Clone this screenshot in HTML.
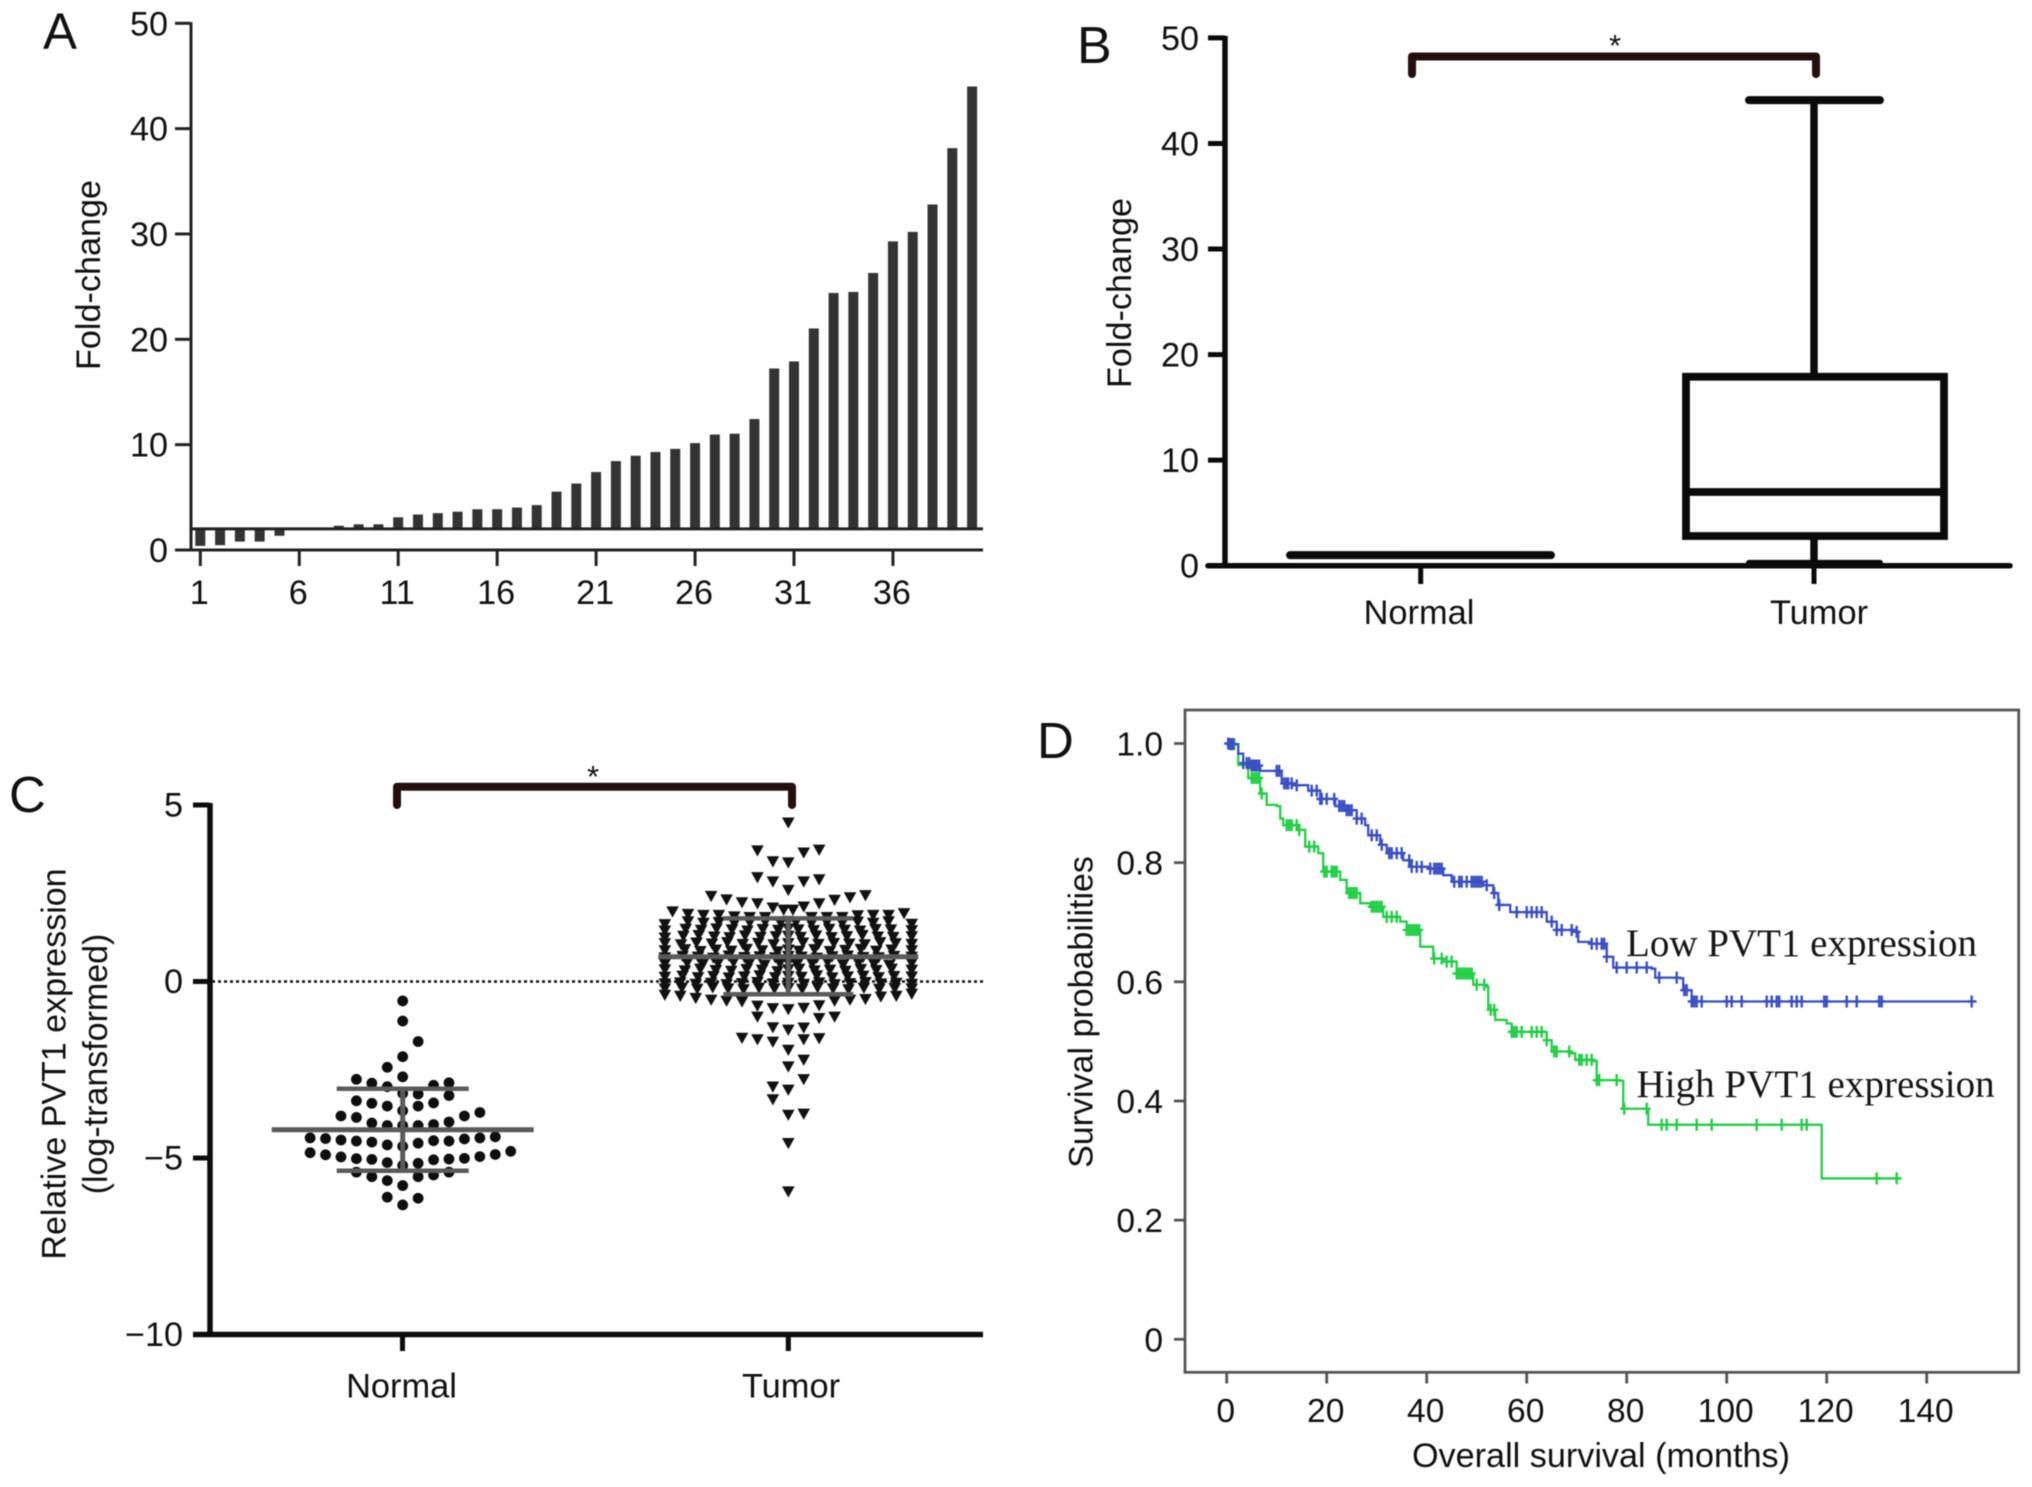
<!DOCTYPE html>
<html lang="en">
<head>
<meta charset="utf-8">
<title>PVT1 expression figure</title>
<style>
html,body{margin:0;padding:0;background:#fff;width:2032px;height:1487px;overflow:hidden}
svg{display:block;position:absolute;left:0;top:0;filter:blur(0.6px)}
text{font-family:"Liberation Sans",sans-serif;fill:#111}
.serif{font-family:"Liberation Serif",serif;fill:#161616}
</style>
</head>
<body>
<svg id="fig" xmlns="http://www.w3.org/2000/svg" width="2032" height="1487" viewBox="0 0 2032 1487">
  <rect x="0" y="0" width="2032" height="1487" fill="#fff"/>
  <g id="panelA">
    <text x="43" y="49" font-size="51">A</text>
    <text transform="translate(100 275) rotate(-90)" text-anchor="middle" font-size="34.2">Fold-change</text>
  </g>
  <g id="panelB">
    <text x="1077" y="63" font-size="52">B</text>
    <text transform="translate(1131 293) rotate(-90)" text-anchor="middle" font-size="34.2">Fold-change</text>
    <text x="1615" y="56" text-anchor="middle" font-size="31">*</text>
  </g>
  <g id="panelC">
    <text x="9" y="812" font-size="51">C</text>
    <text transform="translate(65.5 1064) rotate(-90)" text-anchor="middle" font-size="34">Relative PVT1 expression</text>
    <text transform="translate(107 1064) rotate(-90)" text-anchor="middle" font-size="34">(log-transformed)</text>
    <text x="593" y="787" text-anchor="middle" font-size="31">*</text>
  </g>
  <g id="panelD">
    <text x="1037" y="758" font-size="51">D</text>
    <text transform="translate(1092.5 1012) rotate(-90)" text-anchor="middle" font-size="34">Survival probabilities</text>
    <text x="1601" y="1467" text-anchor="middle" font-size="34.2">Overall survival (months)</text>
    <rect x="1185" y="710" width="833.7" height="662.3" fill="none" stroke="#555" stroke-width="2.8"/>
  </g>
</svg>
<script>
/* ---------- Panel A data ---------- */
const barCategoriesA = [1,2,3,4,5,6,7,8,9,10,11,12,13,14,15,16,17,18,19,20,21,22,23,24,25,26,27,28,29,30,31,32,33,34,35,36,37,38,39,40];
const foldChangeA = [0.39,0.46,0.8,0.8,1.35,2,2,2.3,2.44,2.44,3.1,3.37,3.5,3.64,3.87,3.87,4.03,4.26,5.54,6.31,7.4,8.44,8.95,9.3,9.6,10.15,10.96,11.04,12.43,17.23,17.9,21.03,24.4,24.5,26.3,29.3,30.2,32.8,38.15,44];
const baselineValueA = 2;
const yTicksA = [0,10,20,30,40,50];
const xTicksA = [1,6,11,16,21,26,31,36];

/* ---------- Panel B data ---------- */
const boxCategoriesB = ["Normal","Tumor"];
const yTicksB = [0,10,20,30,40,50];
const normalSummaryB = [1.0];
const tumorWhiskersB = [0.27,44.1];
const tumorBoxB = [2.81,6.98,17.9];

/* ---------- Panel C data ---------- */
const groupCategoriesC = ["Normal","Tumor"];
const yTicksC = [5,0,-5,-10];
const normalValuesC = [-0.55,-1.12,-1.70,-2.13,-2.43,-2.70,-2.77,-2.88,-2.98,-2.94,-2.87,-3.17,-3.19,-3.23,-3.38,-3.45,-3.53,-3.66,-3.53,-3.44,-3.81,-3.85,-4.01,-4.08,-4.08,-4.08,-4.05,-3.98,-3.81,-3.71,-4.43,-4.45,-4.49,-4.52,-4.55,-4.63,-4.67,-4.58,-4.51,-4.52,-4.46,-4.43,-4.40,-4.85,-4.91,-4.97,-5.02,-5.04,-5.13,-5.21,-5.15,-5.05,-5.03,-5.01,-4.96,-4.90,-4.81,-5.40,-5.53,-5.64,-5.78,-5.53,-5.48,-5.40,-6.11,-6.33,-6.14];
const normalSwarmSlotC = [0,0,1,0,-1,0,-3,-2,-1,2,3,0,1,3,-3,-2,-1,0,1,2,-4,-3,-2,-1,0,1,2,3,4,5,-6,-5,-4,-3,-2,-1,0,1,2,3,4,5,6,-6,-5,-4,-3,-2,-1,0,1,2,3,4,5,6,7,-3,-2,-1,0,1,2,3,-1,0,1];
const normalStatsC = [-5.36,-4.20,-3.04];
const tumorStatsC = [-0.36,0.70,1.79];
const tumorOuterValuesC = [4.50,3.71,3.40,3.37,3.65,3.73,2.95,2.83,2.59,2.83,2.89,2.42,2.32,2.24,2.21,2.09,2.03,2.03,2.12,2.21,2.31,2.38,2.44,1.98,1.91,1.88,1.88,1.84,1.82,1.82,1.82,1.82,1.82,1.87,1.88,1.88,1.93,-0.38,-0.41,-0.47,-0.52,-0.55,-0.57,-0.69,-0.76,-0.79,-0.75,-0.68,-0.55,-0.52,-0.50,-0.43,-0.41,-0.35,-1.0,-1.04,-1.0,-1.30,-1.37,-1.31,-1.60,-1.64,-1.71,-1.64,-1.61,-1.94,-2.22,-2.41,-2.77,-2.98,-3.07,-3.34,-3.78,-3.75,-4.58,-5.95];
const tumorOuterSlotC = [0,-2,-1,0,1,2,-2,-1,0,1,2,-5,-4,-3,-2,-1,-0.3,0.3,1,2,3,4,5,-7.5,-6.5,-5.5,-4.5,-3.5,-2.5,-1.5,1.5,2.5,3.5,4.5,5.5,6.5,7.5,-8,-7,-6,-5,-4,-3,-2,-1,0,1,2,3,4,5,6,7,8,-2,2,3,-1,0,1,-3,-2,-1,1,2,0,1,0,1,-1,0,-1,0,1,0,0];
const tumorBand1C = [1.62,1.70,1.66,1.68,1.64,1.67,1.69,1.66,1.71,1.68,1.64,1.67,1.65,1.69,1.66,1.70,1.63];
const tumorBand2C = [1.44,1.49,1.46,1.50,1.47,1.44,1.48,1.46,1.50,1.47,1.45,1.49,1.46,1.44,1.48,1.47,1.45];
const tumorBand3C = [1.24,1.29,1.31,1.27,1.25,1.30,1.26,1.28,1.29,1.26,1.30,1.25,1.28,1.31,1.27,1.26,1.28];
const tumorBand4C = [1.08,1.05,1.10,1.07,1.11,1.06,1.09,1.05,1.08,1.10,1.06,1.09,1.07,1.05,1.11,1.08,1.06];
const tumorBand5C = [0.88,0.91,0.86,0.90,0.87,0.92,0.88,0.85,0.90,0.87,0.91,0.86,0.89,0.92,0.87,0.90,0.88];
const tumorBand6C = [0.68,0.72,0.70,0.67,0.73,0.69,0.71,0.68,0.72,0.70,0.67,0.71,0.73,0.69,0.68,0.72,0.70];
const tumorBand7C = [0.50,0.53,0.49,0.52,0.55,0.50,0.47,0.52,0.54,0.49,0.51,0.55,0.48,0.53,0.50,0.47,0.52];
const tumorBand8C = [0.34,0.31,0.36,0.32,0.30,0.35,0.33,0.29,0.34,0.36,0.31,0.33,0.30,0.35,0.32,0.36,0.33];
const tumorBand9C = [0.13,0.16,0.12,0.15,0.11,0.14,0.17,0.12,0.15,0.13,0.17,0.11,0.14,0.16,0.12,0.15,0.14];
const tumorBand10C = [-0.06,-0.03,-0.07,-0.04,-0.08,-0.05,-0.02,-0.06,-0.04,-0.07,-0.03,-0.08,-0.05,-0.02,-0.06,-0.04,-0.07];
const tumorBand11C = [-0.20,-0.18,-0.21,-0.17,-0.20,-0.22,-0.18,-0.20,-0.19,-0.21,-0.17,-0.20,-0.22,-0.18,-0.21,-0.19,-0.20];
const tumorBandLeanC = [0.5,0.35,0.2,0.05,0.3,0.15,0.45,0.3,0.15,0,0.1];

/* ---------- Panel D data ---------- */
const yTicksD = [0,0.2,0.4,0.6,0.8,1.0];
const yTickLabelsD = ["0","0.2","0.4","0.6","0.8","1.0"];
const xTicksD = [0,20,40,60,80,100,120,140];
const lowTimes = [0,0.67,2.3,3.3,5,6.7,10.3,11,13.3,16.3,18.7,21.7,24,26,27.7,28.3,30.7,32,35.3,36.7,40.7,43.3,45,51.3,53.3,54.3,56.7,63.3,64,66,69.7,70.3,72.7,76,77.3,85,85.7,90.7,91.3,93,150];
const lowSurvival = [1,0.999,0.983,0.967,0.963,0.954,0.954,0.933,0.930,0.921,0.907,0.895,0.888,0.874,0.863,0.846,0.830,0.816,0.804,0.793,0.790,0.779,0.768,0.762,0.749,0.729,0.717,0.717,0.701,0.687,0.684,0.667,0.664,0.642,0.624,0.622,0.607,0.606,0.586,0.567,0.567];
const highTimes = [0,0.67,2.3,4.3,6.7,8,10,10.7,11.3,14.3,15.7,18.3,19.3,22.7,24,26.7,28.7,31.3,34.7,36,38.7,41.3,43.3,46,49.3,51.7,52.3,53.7,56,57,62.3,64,65,68.7,69.7,73.3,74,78.3,79.3,84,84.3,119,135];
const highSurvival = [1,0.999,0.964,0.942,0.916,0.897,0.895,0.874,0.863,0.855,0.827,0.816,0.785,0.771,0.749,0.732,0.726,0.709,0.701,0.687,0.659,0.639,0.634,0.614,0.595,0.592,0.553,0.536,0.530,0.516,0.516,0.502,0.483,0.480,0.469,0.467,0.435,0.434,0.387,0.387,0.360,0.270,0.270];
const lowCensored = [0.3,0.7,1,1.3,3.3,4,4.5,5,5.3,5.7,6,6.5,10,10.5,11.5,12,12.3,13,14,17,18,18.7,19,20,21.5,22.5,23,23.5,24,24.5,25,26,27,29,30,31,32.5,33,34,35,36.5,37,38,39,40.7,41.5,42,42.5,43,45.5,46.5,47,48,49,49.5,50,50.5,51,52,53.5,54.5,58,60,61,62,63,65,66,67,69,70,73,74,75,75.5,76,78,80,82,84,86.5,90,91.5,92,93,93.5,94,95,100,101,103,108,109,110,110.5,113,114,115,119.5,120,124,126,130.5,131,149];
const highCensored = [0.7,1,1.5,5,5.5,6,6.5,7,12,12.5,13,14,14.5,16.5,17.5,19.5,20,21,21.5,22,24.5,25,25.5,26,29,29.5,30,30.5,31,32,33,34,36,36.5,37,37.5,38,38.5,41.5,43,44,45,46,46.5,47,47.5,48,48.5,49,50,51.5,52.8,53.5,57,57.5,58,59,61,62,63,64,65.5,66,68.5,70.5,71,72,73,74,74.5,78,79.5,84,87,88,90,94,97,106,111,115,116,130,134];

/* ---------- helpers ---------- */
const NS = "http://www.w3.org/2000/svg";
function mk(tag, attrs, parent){
  const e = document.createElementNS(NS, tag);
  for (const k in attrs) e.setAttribute(k, attrs[k]);
  parent.appendChild(e);
  return e;
}
function fmtNum(v){ return v < 0 ? "\u2212" + Math.abs(v) : String(v); }

/* ---------- Panel A ---------- */
(function(){
  const g = document.getElementById("panelA");
  const x = i => 200.3 + 19.79 * (i - 1);
  const y = v => 550 - 10.534 * v;
  const barW = 10;
  barCategoriesA.forEach((c, i) => {
    const v = foldChangeA[i];
    const top = Math.min(y(v), y(baselineValueA));
    const h = Math.abs(y(v) - y(baselineValueA));
    const r = mk("rect", {x: x(c) - barW / 2, y: top, width: barW, height: h, fill: "#333"}, g);
    
    
  });
  const yAxis = mk("line", {x1: 191, x2: 191, y1: y(50) - 1, y2: y(0) + 1, stroke: "#222", "stroke-width": 3}, g);
  
  
  const xAxis = mk("line", {x1: 175, x2: 983, y1: y(0), y2: y(0), stroke: "#222", "stroke-width": 3}, g);
  
  
  const base = mk("line", {x1: 191, x2: 983, y1: y(baselineValueA), y2: y(baselineValueA), stroke: "#222", "stroke-width": 3}, g);
  
  
  yTicksA.forEach(v => {
    const t = mk("line", {x1: 175, x2: 191, y1: y(v), y2: y(v), stroke: "#222", "stroke-width": 3}, g);
    
    
    const l = mk("text", {x: 168, y: y(v) + 12, "text-anchor": "end", "font-size": 34.2}, g);
    l.textContent = fmtNum(v);
    
    
  });
  xTicksA.forEach(c => {
    const t = mk("line", {x1: x(c), x2: x(c), y1: y(0), y2: y(0) + 16, stroke: "#222", "stroke-width": 3}, g);
    
    
    const l = mk("text", {x: x(c) - 1, y: 604, "text-anchor": "middle", "font-size": 34.2}, g);
    l.textContent = c;
    
    
  });
})();

/* ---------- Panel B ---------- */
(function(){
  const g = document.getElementById("panelB");
  const x = [1420.7, 1814];
  const y = v => 565.7 - 10.556 * v;
  const ink = "#0a0a0a";
  const yAxis = mk("line", {x1: 1225, x2: 1225, y1: y(50) - 2, y2: y(0), stroke: ink, "stroke-width": 5.5}, g);
  
  
  const xAxis = mk("line", {x1: 1208, x2: 2010, y1: y(0), y2: y(0), stroke: ink, "stroke-width": 5.5, "stroke-linecap": "round"}, g);
  
  
  yTicksB.forEach(v => {
    const t = mk("line", {x1: 1208, x2: 1225, y1: y(v), y2: y(v), stroke: ink, "stroke-width": 5}, g);
    
    
    const l = mk("text", {x: 1199, y: y(v) + 12, "text-anchor": "end", "font-size": 34.2}, g);
    l.textContent = fmtNum(v);
    
    
  });
  boxCategoriesB.forEach((c, i) => {
    const t = mk("line", {x1: x[i], x2: x[i], y1: y(0), y2: 584, stroke: ink, "stroke-width": 5}, g);
    
    
    const l = mk("text", {x: i === 0 ? 1419 : 1819, y: 624, "text-anchor": "middle", "font-size": 34.4}, g);
    l.textContent = c;
    
    
  });
  const normalLine = mk("line", {x1: 1290, x2: 1551, y1: y(normalSummaryB[0]), y2: y(normalSummaryB[0]), stroke: ink, "stroke-width": 8, "stroke-linecap": "round"}, g);
  
  
  const stem = mk("line", {x1: x[1], x2: x[1], y1: y(tumorWhiskersB[1]), y2: y(tumorWhiskersB[0]), stroke: ink, "stroke-width": 7.5}, g);
  
  
  const capTop = mk("line", {x1: 1749, x2: 1880, y1: y(tumorWhiskersB[1]), y2: y(tumorWhiskersB[1]), stroke: ink, "stroke-width": 8, "stroke-linecap": "round"}, g);
  
  
  const capBot = mk("line", {x1: 1749, x2: 1880, y1: y(tumorWhiskersB[0]), y2: y(tumorWhiskersB[0]), stroke: ink, "stroke-width": 6, "stroke-linecap": "round"}, g);
  
  
  const box = mk("rect", {x: 1686, y: y(tumorBoxB[2]), width: 258, height: y(tumorBoxB[0]) - y(tumorBoxB[2]), fill: "#fff", stroke: ink, "stroke-width": 7.8}, g);
  
  
  const med = mk("line", {x1: 1686, x2: 1944, y1: y(tumorBoxB[1]), y2: y(tumorBoxB[1]), stroke: ink, "stroke-width": 7.8}, g);
  
  
  const br = mk("path", {d: "M1412 74 V56.5 H1816 V74", fill: "none", stroke: "#23100e", "stroke-width": 8, "stroke-linecap": "round", "stroke-linejoin": "round"}, g);
  
  
})();

/* ---------- Panel C ---------- */
(function(){
  const g = document.getElementById("panelC");
  const xNormal = 402.7, xTumor = 788.3, step = 15.43;
  const y = v => 981.5 - 35.3 * v;
  const ink = "#0c0c0c";
  const zero = mk("line", {x1: 212, x2: 983, y1: y(0), y2: y(0), stroke: "#111", "stroke-width": 2.4, "stroke-dasharray": "3 3"}, g);
  
  
  const yAxis = mk("line", {x1: 210, x2: 210, y1: y(5) - 2, y2: y(-10), stroke: ink, "stroke-width": 5.5}, g);
  
  
  const xAxis = mk("line", {x1: 193, x2: 983, y1: y(-10), y2: y(-10), stroke: ink, "stroke-width": 5.5}, g);
  
  
  yTicksC.forEach(v => {
    const t = mk("line", {x1: 193, x2: 210, y1: y(v), y2: y(v), stroke: ink, "stroke-width": 5}, g);
    
    
    const l = mk("text", {x: 183, y: y(v) + 11.5, "text-anchor": "end", "font-size": 34.2}, g);
    l.textContent = fmtNum(v);
    
    
  });
  groupCategoriesC.forEach((c, i) => {
    const tx = i === 0 ? 402.5 : 788.3;
    const t = mk("line", {x1: tx, x2: tx, y1: y(-10), y2: 1351, stroke: ink, "stroke-width": 5}, g);
    
    
    const l = mk("text", {x: i === 0 ? 401.5 : 791, y: 1397.5, "text-anchor": "middle", "font-size": 34.4}, g);
    l.textContent = c;
    
    
  });
  const br = mk("path", {d: "M397 805 V786.8 H792 V805", fill: "none", stroke: "#23100e", "stroke-width": 8, "stroke-linecap": "round", "stroke-linejoin": "round"}, g);
  
  

  normalValuesC.forEach((v, i) => {
    const d = mk("circle", {cx: xNormal + normalSwarmSlotC[i] * step, cy: y(v), r: 5.4, fill: "#0e0e0e"}, g);
    
    
  });

  function tri(cx, v){
    const cy = y(v);
    const p = mk("path", {d: "M" + (cx - 6.3) + " " + (cy - 5.2) + " H" + (cx + 6.3) + " L" + cx + " " + (cy + 6) + " Z", fill: "#111"}, g);
    
    
  }
  const bands = [tumorBand1C,tumorBand2C,tumorBand3C,tumorBand4C,tumorBand5C,tumorBand6C,tumorBand7C,tumorBand8C,tumorBand9C,tumorBand10C,tumorBand11C];
  bands.forEach((band, b) => {
    band.forEach((v, k) => {
      const col = k - 8;
      const lean = Math.abs(col) === 8 ? 0 : tumorBandLeanC[b];
      tri(xTumor + (col - Math.sign(col) * lean) * step, v);
    });
  });
  tumorOuterValuesC.forEach((v, i) => tri(xTumor + tumorOuterSlotC[i] * step, v));

  function errorBars(cx, stats, meanHalf, sdHalf, prefix){
    const grey = "#5a5a5a";
    const stem = mk("line", {x1: cx, x2: cx, y1: y(stats[2]), y2: y(stats[0]), stroke: grey, "stroke-width": 5}, g);
    
    
    const mean = mk("line", {x1: cx - meanHalf, x2: cx + meanHalf, y1: y(stats[1]), y2: y(stats[1]), stroke: grey, "stroke-width": 5}, g);
    
    
    const up = mk("line", {x1: cx - sdHalf, x2: cx + sdHalf, y1: y(stats[2]), y2: y(stats[2]), stroke: grey, "stroke-width": 4.5}, g);
    
    
    const lo = mk("line", {x1: cx - sdHalf, x2: cx + sdHalf, y1: y(stats[0]), y2: y(stats[0]), stroke: grey, "stroke-width": 4.5}, g);
    
    
  }
  errorBars(xNormal, normalStatsC, 131, 66, 'normal');
  errorBars(xTumor, tumorStatsC, 130, 65, 'tumor');
})();

/* ---------- Panel D ---------- */
(function(){
  const g = document.getElementById("panelD");
  const x = t => 1226.7 + 5 * t;
  const y = s => 1339.3 - 595.8 * s;
  const tickInk = "#555";
  yTicksD.forEach((v, i) => {
    const t = mk("line", {x1: 1174, x2: 1185, y1: y(v), y2: y(v), stroke: tickInk, "stroke-width": 2.8}, g);
    
    
    const l = mk("text", {x: 1163, y: y(v) + 12, "text-anchor": "end", "font-size": 33.6}, g);
    l.textContent = yTickLabelsD[i];
    
    
  });
  xTicksD.forEach(v => {
    const t = mk("line", {x1: x(v), x2: x(v), y1: 1372, y2: 1383.5, stroke: tickInk, "stroke-width": 2.8}, g);
    
    
    const l = mk("text", {x: x(v) - 1, y: 1422, "text-anchor": "middle", "font-size": 33.6}, g);
    l.textContent = v;
    
    
  });
  function stepPath(ts, ss){
    let d = "M" + x(ts[0]) + " " + y(ss[0]);
    for (let i = 1; i < ts.length; i++) d += " H" + x(ts[i]) + " V" + y(ss[i]);
    return d;
  }
  function stepAt(ts, ss, t){
    let s = ss[0];
    for (let i = 0; i < ts.length; i++) { if (ts[i] <= t) s = ss[i]; else break; }
    return s;
  }
  const highPath = mk("path", {d: stepPath(highTimes, highSurvival), fill: "none", stroke: "#22cf45", "stroke-width": 2.3}, g);
  
  
  highCensored.forEach(t => {
    const m = mk("path", {d: "M" + x(t) + " " + (y(stepAt(highTimes, highSurvival, t)) - 6) + " v12 M" + (x(t) - 4) + " " + y(stepAt(highTimes, highSurvival, t)) + " h8", fill: "none", stroke: "#22cf45", "stroke-width": 2.4}, g);
    
    
  });
  const lowPath = mk("path", {d: stepPath(lowTimes, lowSurvival), fill: "none", stroke: "#3a4fc6", "stroke-width": 2.3}, g);
  
  
  lowCensored.forEach(t => {
    const m = mk("path", {d: "M" + x(t) + " " + (y(stepAt(lowTimes, lowSurvival, t)) - 6) + " v12 M" + (x(t) - 4) + " " + y(stepAt(lowTimes, lowSurvival, t)) + " h8", fill: "none", stroke: "#3a4fc6", "stroke-width": 2.4}, g);
    
    
  });
  const lowLabel = mk("text", {x: 1626, y: 956, "font-size": 39, class: "serif"}, g);
  lowLabel.textContent = "Low PVT1 expression";
  
  
  const highLabel = mk("text", {x: 1636.5, y: 1097, "font-size": 39.1, class: "serif"}, g);
  highLabel.textContent = "High PVT1 expression";
  
  
})();
</script>
</body>
</html>
